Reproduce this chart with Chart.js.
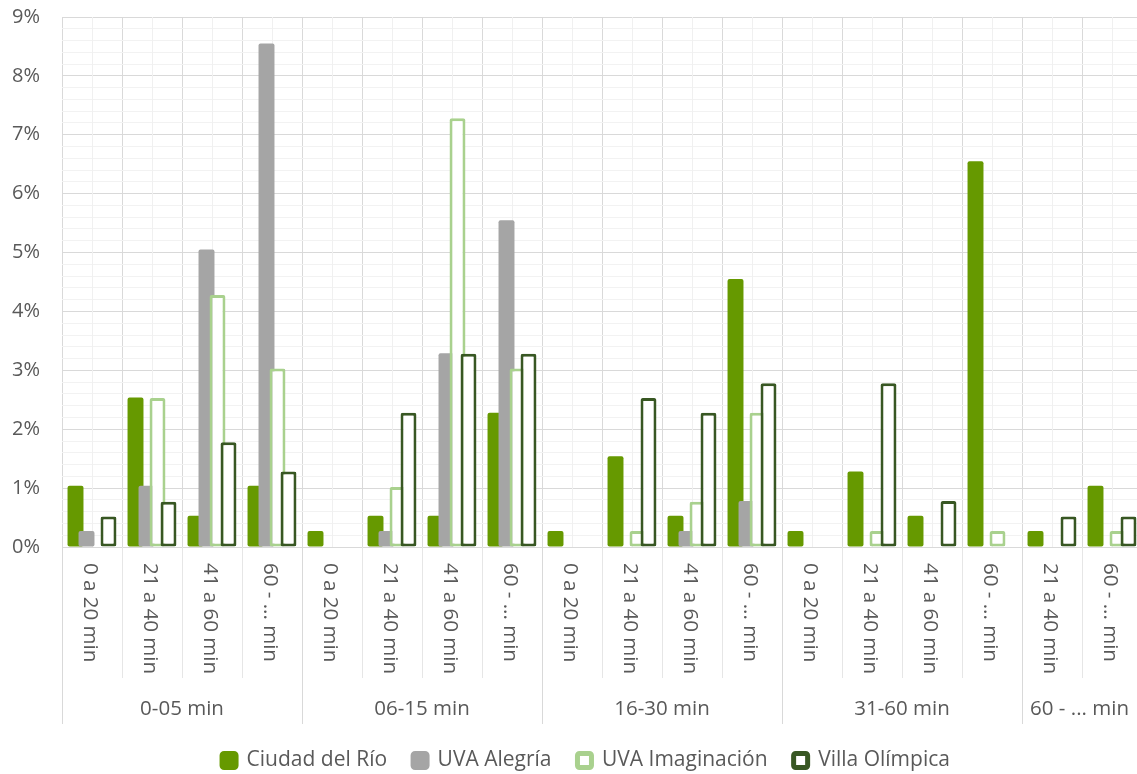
<!DOCTYPE html>
<html>
<head>
<meta charset="utf-8">
<script src="https://cdn.jsdelivr.net/npm/chart.js@4/dist/chart.umd.min.js"></script>
<style>
  html, body { margin: 0; padding: 0; background: #ffffff; overflow: hidden; }
  #wrap { width: 1137px; height: 774px; overflow: hidden; }
  #chart { display: block; margin-top: -17px; }
</style>
</head>
<body>
<div id="wrap"><canvas id="chart" width="1160" height="803"></canvas></div>
<script>
// outer groups and how many sub-categories each one holds
const groups = ["0-05 min", "06-15 min", "16-30 min", "31-60 min", "60 - ... min"];
const group_sizes = [4, 4, 4, 4, 2];

const categories = [
  "0 a 20 min", "21 a 40 min", "41 a 60 min", "60 - ... min",
  "0 a 20 min", "21 a 40 min", "41 a 60 min", "60 - ... min",
  "0 a 20 min", "21 a 40 min", "41 a 60 min", "60 - ... min",
  "0 a 20 min", "21 a 40 min", "41 a 60 min", "60 - ... min",
  "21 a 40 min", "60 - ... min"
];

// percentages
const ciudad_del_rio = [1.04, 2.54, 0.53, 1.04, 0.27, 0.53, 0.53, 2.28, 0.27, 1.54, 0.53, 4.55, 0.27, 1.28, 0.53, 6.55, 0.27, 1.04];
const uva_alegria    = [0.27, 1.04, 5.05, 8.55, 0, 0.27, 3.29, 5.55, 0, 0, 0.27, 0.78, 0, 0, 0, 0, 0, 0];
const uva_imaginacion = [0, 2.53, 4.28, 3.03, 0, 1.02, 7.28, 3.03, 0, 0.27, 0.77, 2.28, 0, 0.27, 0, 0.27, 0, 0.27];
const villa_olimpica = [0.52, 0.77, 1.78, 1.28, 0, 2.28, 3.28, 3.28, 0, 2.53, 2.28, 2.78, 0, 2.78, 0.78, 0, 0.52, 0.52];

const text_colour = "#595959";
const font_family = "'Open Sans', sans-serif";

const bar_common = {
  categoryPercentage: 0.733,
  barPercentage: 1.45,
  borderSkipped: false,
  borderRadius: 2,
};

// draw datasets in their natural order so later series sit on top
const draw_order = {
  id: "draw_order",
  beforeDatasetsDraw(chart) {
    chart.data.datasets.forEach((d, i) => chart.getDatasetMeta(i).controller.draw());
    return false;
  }
};

// nudge the legend so it sits where the original one does
const legend_shift = {
  id: "legend_shift",
  afterLayout(chart) {
    chart.legend.left += 15;
    chart.legend.right += 15;
  }
};

// minor vertical lines, separators and the two-level x labels
const axis_labels = {
  id: "axis_labels",
  beforeDatasetsDraw(chart) {
    const { ctx, chartArea, scales: { x } } = chart;
    ctx.save();
    ctx.strokeStyle = "#f0f0f0";
    ctx.lineWidth = 1;
    categories.forEach((c, i) => {
      const px = Math.round(x.getPixelForValue(i)) + 0.5;
      ctx.beginPath();
      ctx.moveTo(px, chartArea.top);
      ctx.lineTo(px, chartArea.bottom);
      ctx.stroke();
    });
    ctx.restore();
  },
  afterDraw(chart) {
    const { ctx, chartArea, scales: { x } } = chart;
    const half = (x.getPixelForValue(1) - x.getPixelForValue(0)) / 2;
    const base = chartArea.bottom;
    ctx.save();

    // inner separators
    ctx.strokeStyle = "#e6e6e6";
    ctx.lineWidth = 1;
    categories.forEach((c, i) => {
      const px = Math.round(x.getPixelForValue(i) - half) + 0.5;
      ctx.beginPath();
      ctx.moveTo(px, base);
      ctx.lineTo(px, base + 131);
      ctx.stroke();
    });

    // group separators
    ctx.strokeStyle = "#d9d9d9";
    let start = 0;
    const edges = [0];
    group_sizes.forEach(n => { start += n; edges.push(start); });
    edges.forEach(e => {
      const px = Math.round(x.getPixelForValue(e) - half) + 0.5;
      ctx.beginPath();
      ctx.moveTo(px, base);
      ctx.lineTo(px, base + 177);
      ctx.stroke();
    });

    // rotated category labels, reading top to bottom
    ctx.fillStyle = text_colour;
    ctx.font = "20.5px " + font_family;
    ctx.textAlign = "left";
    ctx.textBaseline = "middle";
    categories.forEach((c, i) => {
      ctx.save();
      ctx.translate(x.getPixelForValue(i) - 2, base + 16);
      ctx.rotate(Math.PI / 2);
      ctx.fillText(c, 0, 0);
      ctx.restore();
    });

    // group labels
    ctx.textAlign = "center";
    groups.forEach((g, k) => {
      const left = x.getPixelForValue(edges[k]) - half;
      const right = Math.min(x.getPixelForValue(edges[k + 1]) - half, 1137);
      ctx.fillText(g, (left + right) / 2, base + 162);
    });
    ctx.restore();
  }
};

new Chart(document.getElementById("chart"), {
  type: "bar",
  data: {
    labels: categories,
    datasets: [
      { label: "Ciudad del Río", data: ciudad_del_rio, backgroundColor: "#669900", borderColor: "#669900", borderWidth: 0, ...bar_common },
      { label: "UVA Alegría", data: uva_alegria, backgroundColor: "#a5a5a5", borderColor: "#a5a5a5", borderWidth: 0, ...bar_common },
      { label: "UVA Imaginación", data: uva_imaginacion, backgroundColor: "#ffffff", borderColor: "#a9d18e", borderWidth: 3, ...bar_common },
      { label: "Villa Olímpica", data: villa_olimpica, backgroundColor: "#ffffff", borderColor: "#385723", borderWidth: 3, ...bar_common }
    ]
  },
  options: {
    responsive: false,
    animation: false,
    layout: { padding: { left: 0, right: 18, top: 0, bottom: 5 } },
    scales: {
      x: {
        grid: { color: "#d9d9d9", drawTicks: false, offset: true },
        border: { color: "#d9d9d9" },
        ticks: { display: false },
        afterFit(scale) { scale.height = 177; }
      },
      y: {
        min: 0,
        max: 9,
        grid: {
          drawTicks: false,
          color: (ctx) => {
            const v = ctx.tick.value;
            return Math.abs(v - Math.round(v)) < 1e-6 ? "#d9d9d9" : "#f2f2f2";
          }
        },
        border: { display: false },
        ticks: {
          stepSize: 0.2,
          autoSkip: false,
          maxTicksLimit: 100,
          padding: 22,
          color: text_colour,
          font: { family: font_family, size: 20 },
          callback: (v) => Math.abs(v - Math.round(v)) < 1e-6 ? Math.round(v) + "%" : ""
        },
        afterFit(scale) { scale.width = 62; }
      }
    },
    plugins: {
      legend: {
        position: "bottom",
        labels: {
          color: text_colour,
          font: { family: font_family, size: 21 },
          boxWidth: 14,
          boxHeight: 14,
          padding: 26,
          generateLabels: (chart) =>
            Chart.defaults.plugins.legend.labels.generateLabels(chart).map(l => ({
              ...l,
              lineWidth: 5,
              borderRadius: 2
            }))
        }
      },
      tooltip: { enabled: false }
    }
  },
  plugins: [axis_labels, draw_order, legend_shift]
});
</script>
</body>
</html>
